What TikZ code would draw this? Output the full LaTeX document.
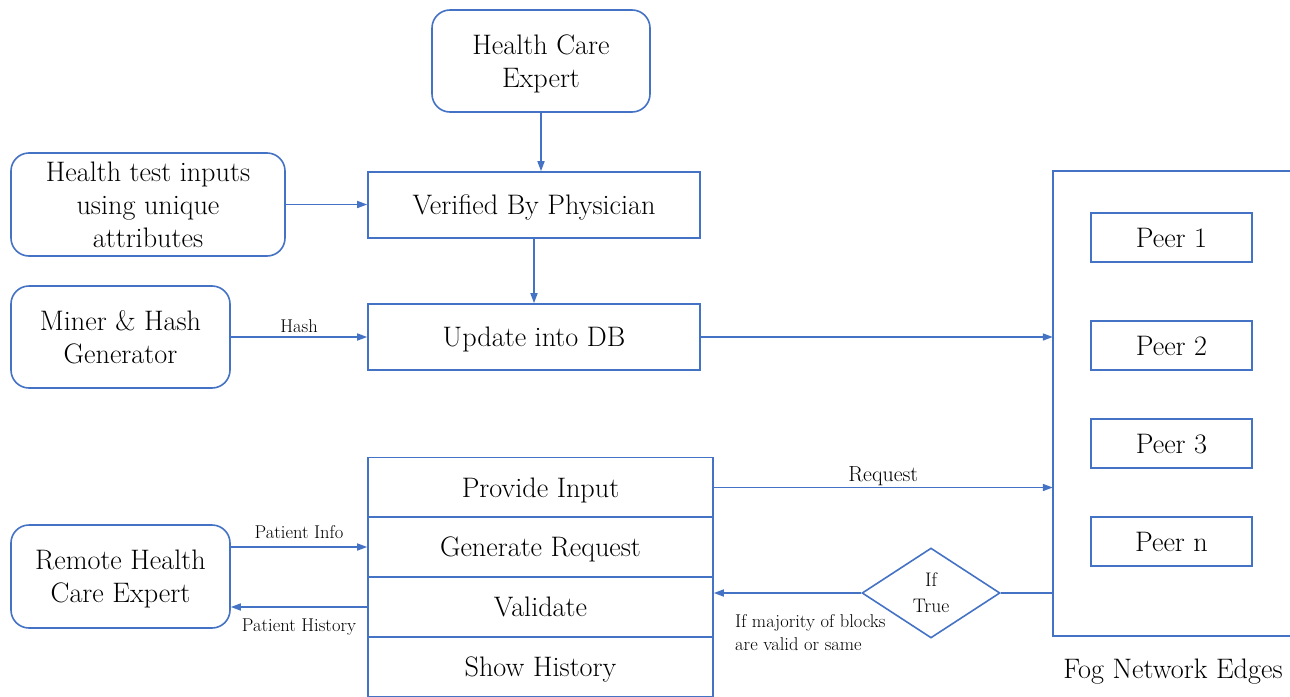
\documentclass[tikz,border=0pt]{standalone}
\usetikzlibrary{shapes.geometric,arrows.meta}
\definecolor{edgeblue}{HTML}{4472C4}

\begin{document}
\begin{tikzpicture}[x=1pt, y=-1pt,
        box/.style={draw=edgeblue, line width=1.6pt, inner sep=0pt, align=center, text=black, text depth=0pt, font=\fontsize{28.2}{33}\selectfont},
        soft/.style={box, rounded corners=18pt},
        peer/.style={box, minimum width=161pt, minimum height=49pt},
        row/.style={box, minimum width=345pt, minimum height=60pt},
        link/.style={draw=edgeblue, line width=1.6pt},
        flow/.style={link, -{Triangle[length=10pt,width=7pt]}},
        tag/.style={text=black, inner sep=2pt, font=\fontsize{18.5}{23}\selectfont}]
        \useasboundingbox (0,0) rectangle (1290,696);
        \node[soft, minimum width=218pt, minimum height=102pt] (hce) at (541,61) {Health Care\\Expert};
        \node[box, minimum width=332pt, minimum height=66pt] (verified) at (534,205) {Verified By Physician};
        \node[soft, minimum width=274pt, minimum height=103pt] (tests) at (148,204.5) {Health test inputs\\using unique\\attributes};
        \node[box, minimum width=332pt, minimum height=66pt] (db) at (534,337) {Update into DB};
        \node[soft, minimum width=219pt, minimum height=102pt] (miner) at (120.5,337) {Miner \& Hash\\Generator};
        \node[soft, minimum width=219pt, minimum height=103pt] (remote) at (120.5,576.5) {Remote Health\\Care Expert};
        \node[row] (input) at (540.5,487.5) {Provide Input};
        \node[row] (request) at (540.5,547) {Generate Request};
        \node[row] (validate) at (540.5,607) {Validate};
        \node[row] (history) at (540.5,667) {Show History};
        \node[minimum width=237pt, minimum height=465pt, inner sep=0pt] (fog) at (1171.5,403.5) {};
        \draw[link] (fog.north east) -- (fog.north west) -- (fog.south west) -- (fog.south east);
        \foreach \n/\y in {1/237.5, 2/345.5, 3/443.5, n/541.5}
            \node[peer] (peer\n) at (1171.5,\y) {Peer \n};
        \node[text=black, font=\fontsize{28.2}{32}\selectfont] (fogname) at (1173,672) {Fog Network Edges};
        \node[box, diamond, minimum width=138pt, minimum height=90pt, font=\fontsize{19.6}{26}\selectfont] (iftrue) at (931,593) {If\\True};
        \draw[flow] (hce.south) -- (hce.south |- verified.north);
        \draw[flow] (verified.south) -- (db.north);
        \draw[flow] (tests.east) -- (tests.east -| verified.west);
        \draw[flow] (miner.east) -- (db.west) node[midway, above=2pt, tag] {Hash};
        \draw[flow] (db.east) -- (db.east -| fog.west);
        \draw[flow] (input.east) -- (input.east -| fog.west) node[midway, above=-1pt, tag, font=\fontsize{21.8}{24}\selectfont] {Request};
        \draw[link] (fog.west |- iftrue) -- (iftrue.east);
        \draw[flow] (iftrue.west) -- (iftrue.west -| validate.east);
        \node[tag, align=left, anchor=north west] (note) at (733,612) {If majority of blocks\\are valid or same};
        \draw[flow] (remote.east |- request) -- (request.west) node[midway, above=6pt, tag] {Patient Info};
        \draw[flow] (validate.west) -- (remote.east |- validate) node[midway, below=9pt, tag] {Patient History};
    \end{tikzpicture}
\end{document}
